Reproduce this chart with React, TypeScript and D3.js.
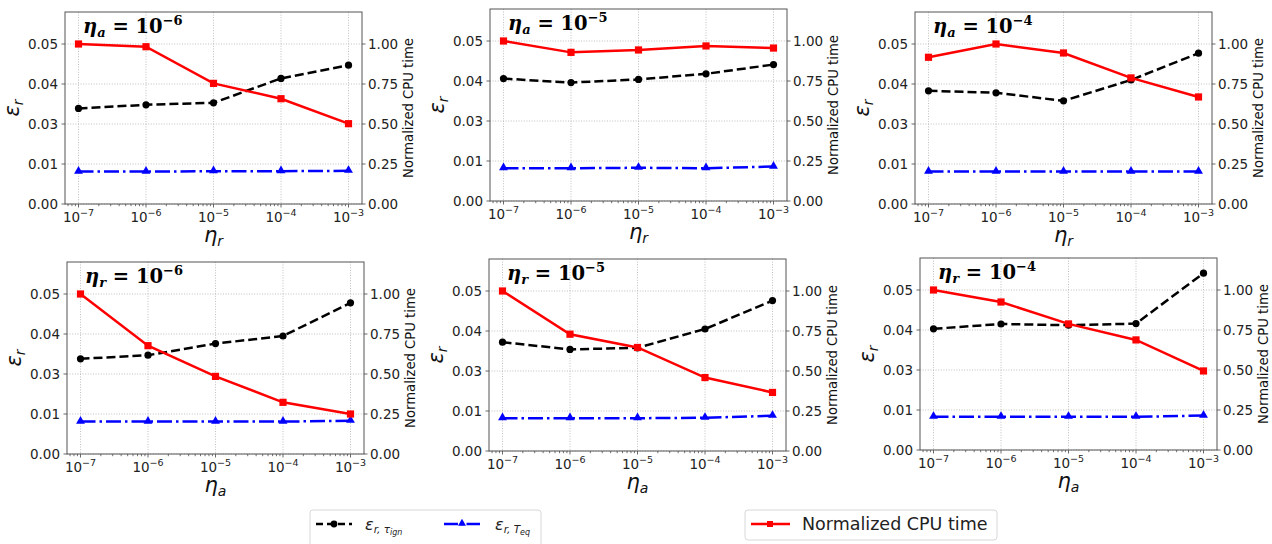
import React, { useEffect, useRef } from 'react'
import * as d3 from 'd3'

// x positions (eta values) shared by all six panels
const etaValues = [1e-7, 1e-6, 1e-5, 1e-4, 1e-3]
const etaExponents = ['−7', '−6', '−5', '−4', '−3']

// left axis labels as printed (0.02 is skipped on the original)
const leftTicks = [0, 0.01, 0.03, 0.04, 0.05]
const leftTickLabels = ['0.00', '0.01', '0.03', '0.04', '0.05']
const rightTicks = [0, 0.25, 0.5, 0.75, 1.0]
const rightTickLabels = ['0.00', '0.25', '0.50', '0.75', '1.00']

// top row: eta_a fixed, x = eta_r
const ignA6 = [0.0339, 0.0348, 0.0353, 0.0414, 0.0447]
const eqA6 = [0.0081, 0.0081, 0.0082, 0.0082, 0.0083]
const cpuA6 = [1.0, 0.983, 0.754, 0.658, 0.502]

const ignA5 = [0.0406, 0.0396, 0.0404, 0.0418, 0.0441]
const eqA5 = [0.0082, 0.0082, 0.0083, 0.0082, 0.0086]
const cpuA5 = [1.0, 0.929, 0.944, 0.969, 0.956]

const ignA4 = [0.0383, 0.0378, 0.0358, 0.041, 0.0477]
const eqA4 = [0.0081, 0.0081, 0.0081, 0.0081, 0.0081]
const cpuA4 = [0.917, 1.0, 0.944, 0.788, 0.669]

// bottom row: eta_r fixed, x = eta_a
const ignR6 = [0.0338, 0.0347, 0.0376, 0.0395, 0.0478]
const eqR6 = [0.0081, 0.0081, 0.0081, 0.0081, 0.0083]
const cpuR6 = [1.0, 0.677, 0.485, 0.323, 0.25]

const ignR5 = [0.0372, 0.0354, 0.0358, 0.0405, 0.0476]
const eqR5 = [0.0082, 0.0082, 0.0082, 0.0083, 0.0088]
const cpuR5 = [1.0, 0.73, 0.647, 0.459, 0.366]

const ignR4 = [0.0403, 0.0415, 0.0412, 0.0416, 0.0542]
const eqR4 = [0.0083, 0.0083, 0.0083, 0.0083, 0.0086]
const cpuR4 = [1.0, 0.925, 0.788, 0.688, 0.494]

const panels = [
  { fixed: 'a', exp: '−6', xsub: 'r', ign: ignA6, eq: eqA6, cpu: cpuA6 },
  { fixed: 'a', exp: '−5', xsub: 'r', ign: ignA5, eq: eqA5, cpu: cpuA5 },
  { fixed: 'a', exp: '−4', xsub: 'r', ign: ignA4, eq: eqA4, cpu: cpuA4 },
  { fixed: 'r', exp: '−6', xsub: 'a', ign: ignR6, eq: eqR6, cpu: cpuR6 },
  { fixed: 'r', exp: '−5', xsub: 'a', ign: ignR5, eq: eqR5, cpu: cpuR5 },
  { fixed: 'r', exp: '−4', xsub: 'a', ign: ignR4, eq: eqR4, cpu: cpuR4 },
]

// where each panel's axes box sits
const layout = [
  { left: 65, bottom: 204 },
  { left: 490, bottom: 201 },
  { left: 915, bottom: 204 },
  { left: 67, bottom: 454 },
  { left: 489, bottom: 451 },
  { left: 920, bottom: 450 },
]

const W = 1272
const H = 544
const sans = 'DejaVu Sans, sans-serif'

export default function App() {
  const svgRef = useRef<SVGSVGElement>(null)

  useEffect(() => {
    const svg = d3.select(svgRef.current)
    svg.selectAll('*').remove()

    const pw = 297
    const step = 40

    panels.forEach((p, k) => {
      const { left, bottom } = layout[k]
      const right = left + pw
      const top = bottom - 4.8 * step
      const g = svg.append('g')

      const x = d3.scaleLog().domain([10 ** -7.2, 10 ** -2.8]).range([left, right])
      const yL = d3.scaleLinear().domain(leftTicks).range(leftTicks.map((_, i) => bottom - i * step))
      const yR = d3.scaleLinear().domain([0, 1]).range([bottom, bottom - 4 * step])

      // grid
      g.selectAll('.gx').data(etaValues).enter().append('line')
        .attr('x1', d => x(d)).attr('x2', d => x(d))
        .attr('y1', top).attr('y2', bottom)
        .attr('stroke', '#b0b0b0').attr('stroke-width', 0.8).attr('stroke-dasharray', '1,1.6')
      g.selectAll('.gy').data(leftTicks).enter().append('line')
        .attr('x1', left).attr('x2', right)
        .attr('y1', d => yL(d)).attr('y2', d => yL(d))
        .attr('stroke', '#b0b0b0').attr('stroke-width', 0.8).attr('stroke-dasharray', '1,1.6')

      // minor log ticks
      const minors: number[] = []
      for (let e = -8; e <= -3; e++) {
        for (let m = 2; m <= 9; m++) {
          const v = m * 10 ** e
          if (v > 10 ** -7.2 && v < 10 ** -2.8) minors.push(v)
        }
      }
      g.selectAll('.mn').data(minors).enter().append('line')
        .attr('x1', d => x(d)).attr('x2', d => x(d))
        .attr('y1', bottom).attr('y2', bottom + 2.2)
        .attr('stroke', '#333').attr('stroke-width', 0.7)

      // major ticks
      g.selectAll('.tx').data(etaValues).enter().append('line')
        .attr('x1', d => x(d)).attr('x2', d => x(d))
        .attr('y1', bottom).attr('y2', bottom + 3.5)
        .attr('stroke', '#444').attr('stroke-width', 0.8)
      g.selectAll('.tl').data(leftTicks).enter().append('line')
        .attr('x1', left - 3.5).attr('x2', left)
        .attr('y1', d => yL(d)).attr('y2', d => yL(d))
        .attr('stroke', '#444').attr('stroke-width', 0.8)
      g.selectAll('.tr').data(rightTicks).enter().append('line')
        .attr('x1', right).attr('x2', right + 3.5)
        .attr('y1', d => yR(d)).attr('y2', d => yR(d))
        .attr('stroke', '#444').attr('stroke-width', 0.8)

      // tick labels
      const xl = g.selectAll('.xl').data(etaValues).enter().append('text')
        .attr('x', d => x(d)).attr('y', bottom + 18)
        .attr('text-anchor', 'middle').attr('font-family', sans).attr('font-size', 13.5).attr('fill', '#222')
      xl.append('tspan').text('10')
      xl.append('tspan').attr('font-size', 9.5).attr('dy', -6).text((_, i) => etaExponents[i])

      g.selectAll('.yl').data(leftTicks).enter().append('text')
        .attr('x', left - 7).attr('y', d => yL(d)).attr('dy', '0.36em')
        .attr('text-anchor', 'end').attr('font-family', sans).attr('font-size', 13.5).attr('fill', '#222')
        .text((_, i) => leftTickLabels[i])
      g.selectAll('.yr').data(rightTicks).enter().append('text')
        .attr('x', right + 6).attr('y', d => yR(d)).attr('dy', '0.36em')
        .attr('text-anchor', 'start').attr('font-family', sans).attr('font-size', 13.5).attr('fill', '#222')
        .text((_, i) => rightTickLabels[i])

      // axis labels
      const cy = (top + bottom) / 2
      const ylab = g.append('text')
        .attr('transform', `translate(${left - 46},${cy}) rotate(-90)`)
        .attr('text-anchor', 'middle').attr('font-family', sans).attr('font-style', 'italic')
        .attr('font-size', 21).attr('fill', '#111')
      ylab.append('tspan').text('ε')
      ylab.append('tspan').attr('font-size', 14).attr('dy', 4).text('r')

      g.append('text')
        .attr('transform', `translate(${right + 51},${cy}) rotate(-90)`)
        .attr('text-anchor', 'middle').attr('font-family', sans)
        .attr('font-size', 13.2).attr('fill', '#111')
        .text('Normalized CPU time')

      const xlab = g.append('text')
        .attr('x', (left + right) / 2).attr('y', bottom + 38)
        .attr('text-anchor', 'middle').attr('font-family', sans).attr('font-style', 'italic')
        .attr('font-size', 21).attr('fill', '#111')
      xlab.append('tspan').text('η')
      xlab.append('tspan').attr('font-size', 14).attr('dy', 4).text(p.xsub)

      // series
      const lineL = d3.line<number>().x((_, i) => x(etaValues[i])).y(d => yL(d))
      const lineR = d3.line<number>().x((_, i) => x(etaValues[i])).y(d => yR(d))

      g.append('path').attr('d', lineL(p.ign)).attr('fill', 'none')
        .attr('stroke', '#000').attr('stroke-width', 2.5).attr('stroke-dasharray', '9,4')
      g.selectAll('.pi').data(p.ign).enter().append('circle')
        .attr('cx', (_, i) => x(etaValues[i])).attr('cy', d => yL(d)).attr('r', 3.6).attr('fill', '#000')

      g.append('path').attr('d', lineL(p.eq)).attr('fill', 'none')
        .attr('stroke', '#0000ff').attr('stroke-width', 2.5).attr('stroke-dasharray', '15,4,2.5,4')
      const tri = d3.symbol().type(d3.symbolTriangle).size(34)
      g.selectAll('.pe').data(p.eq).enter().append('path')
        .attr('d', tri()).attr('fill', '#0000ff')
        .attr('transform', (d, i) => `translate(${x(etaValues[i])},${yL(d) - 0.5})`)

      g.append('path').attr('d', lineR(p.cpu)).attr('fill', 'none')
        .attr('stroke', '#ff0000').attr('stroke-width', 2.5)
      g.selectAll('.pc').data(p.cpu).enter().append('rect')
        .attr('x', (_, i) => x(etaValues[i]) - 3.6).attr('y', d => yR(d) - 3.6)
        .attr('width', 7.2).attr('height', 7.2).attr('fill', '#ff0000')

      // frame
      g.append('rect').attr('x', left).attr('y', top).attr('width', pw).attr('height', bottom - top)
        .attr('fill', 'none').attr('stroke', '#555').attr('stroke-width', 1)

      // panel title
      const t = g.append('text')
        .attr('x', left + 18).attr('y', top + 21)
        .attr('font-family', 'DejaVu Serif, serif').attr('font-weight', 'bold')
        .attr('font-size', 19.5).attr('fill', '#000')
      t.append('tspan').attr('font-style', 'italic').text('η')
      t.append('tspan').attr('font-style', 'italic').attr('font-size', 13).attr('dy', 4).text(p.fixed)
      t.append('tspan').attr('dy', -4).text(' = 10')
      t.append('tspan').attr('font-size', 13).attr('dy', -8).text(p.exp)
    })

    // legends
    const lg = svg.append('g')
    lg.append('rect').attr('x', 310).attr('y', 510).attr('width', 231).attr('height', 40).attr('rx', 3)
      .attr('fill', '#fff').attr('stroke', '#d8d8d8')
    lg.append('rect').attr('x', 745).attr('y', 510).attr('width', 252).attr('height', 30).attr('rx', 3)
      .attr('fill', '#fff').attr('stroke', '#d8d8d8')

    const ly = 524
    lg.append('line').attr('x1', 316).attr('x2', 352).attr('y1', ly).attr('y2', ly)
      .attr('stroke', '#000').attr('stroke-width', 2.5).attr('stroke-dasharray', '7,4')
    lg.append('circle').attr('cx', 334).attr('cy', ly).attr('r', 3.4).attr('fill', '#000')
    const e1 = lg.append('text').attr('x', 365).attr('y', 530)
      .attr('font-family', sans).attr('font-style', 'italic').attr('font-size', 16).attr('fill', '#222')
    e1.append('tspan').text('ε')
    e1.append('tspan').attr('font-size', 10.5).attr('dy', 3).text('r, τ')
    e1.append('tspan').attr('font-size', 8).attr('dy', 2).text('ign')

    lg.append('line').attr('x1', 444).attr('x2', 480).attr('y1', ly).attr('y2', ly)
      .attr('stroke', '#0000ff').attr('stroke-width', 2.5).attr('stroke-dasharray', '14,3,2.5,3')
    lg.append('path').attr('d', d3.symbol().type(d3.symbolTriangle).size(28)())
      .attr('fill', '#0000ff').attr('transform', `translate(462,${ly - 0.5})`)
    const e2 = lg.append('text').attr('x', 495).attr('y', 530)
      .attr('font-family', sans).attr('font-style', 'italic').attr('font-size', 16).attr('fill', '#222')
    e2.append('tspan').text('ε')
    e2.append('tspan').attr('font-size', 10.5).attr('dy', 3).text('r, T')
    e2.append('tspan').attr('font-size', 8).attr('dy', 2).text('eq')

    lg.append('line').attr('x1', 751).attr('x2', 790).attr('y1', ly).attr('y2', ly)
      .attr('stroke', '#ff0000').attr('stroke-width', 2.5)
    lg.append('rect').attr('x', 767).attr('y', ly - 3).attr('width', 6).attr('height', 6).attr('fill', '#ff0000')
    lg.append('text').attr('x', 802).attr('y', 530)
      .attr('font-family', sans).attr('font-size', 17.5).attr('fill', '#222')
      .text('Normalized CPU time')
  }, [])

  return (
    <svg ref={svgRef} width={W} height={H}
      style={{ position: 'absolute', left: 0, top: 0, background: '#fff' }} />
  )
}
